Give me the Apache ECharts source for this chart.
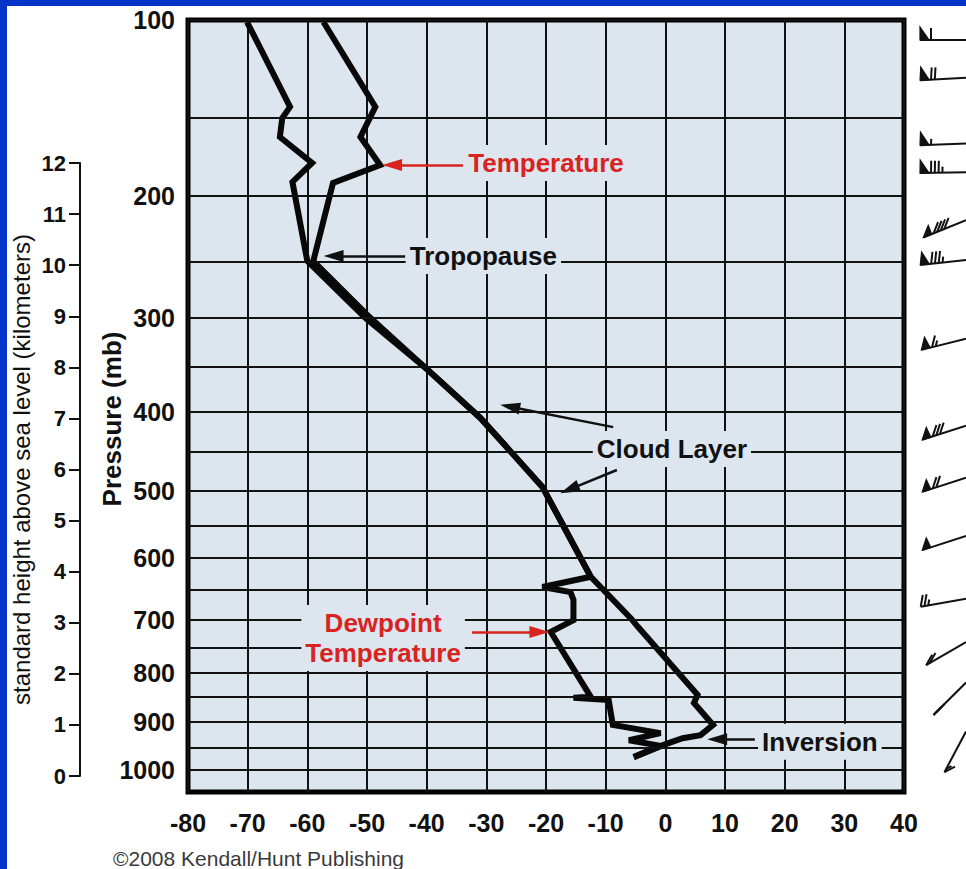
<!DOCTYPE html>
<html><head><meta charset="utf-8">
<script src="https://cdn.jsdelivr.net/npm/echarts@6/dist/echarts.min.js"></script>
<style>
html,body{margin:0;padding:0;background:#fff;}
#wrap{position:relative;width:966px;height:869px;overflow:hidden;}
#chart{position:absolute;left:0;top:0;width:966px;height:869px;}
.frameL{position:absolute;left:0;top:0;width:7px;height:869px;background:#0534c8;}
.frameT{position:absolute;left:0;top:0;width:966px;height:6px;background:#0534c8;}
</style></head><body>
<div id="wrap"><div id="chart"></div><div class="frameL"></div><div class="frameT"></div></div>
<script>
// ---- data ----
// temperature sounding: (°C, standard height km)
const tempC  = [-57.3,-48.6,-51.1,-47.8,-55.7,-59.0,-50.0,-40.2,-31.0,-20.6,-12.5,-5.8,-4.6,5.4,4.8,8.0,5.9,2.9,-0.3,-5.3];
const tempKm = [14.76,13.10,12.51,11.96,11.61,10.08,9.03,7.99,7.01,5.66,3.90,3.09,2.92,1.59,1.43,1.00,0.80,0.74,0.61,0.37];
// dewpoint sounding
const dewC  = [-70.1,-62.9,-64.2,-64.6,-59.2,-62.5,-60.0,-50.3,-40.2,-31.0,-20.6,-12.5,-20.6,-15.9,-15.4,-15.4,-19.2,-12.5,-15.4,-9.5,-8.8,-0.8,-6.1,-0.8,-5.3];
const dewKm = [14.76,13.10,12.88,12.51,12.00,11.63,10.08,8.97,7.99,7.01,5.66,3.90,3.70,3.60,3.45,3.05,2.82,1.55,1.53,1.49,1.00,0.84,0.70,0.59,0.37];
// pressure grid levels (mb) and their standard heights (km) on the chart
const pressureLevels = [100,150,200,250,300,350,400,450,500,550,600,650,700,750,800,850,900,950,1000];
const pressureKm     = [14.80,12.88,11.35,10.06,8.97,8.01,7.13,6.34,5.58,4.89,4.27,3.64,3.05,2.51,2.02,1.55,1.06,0.55,0.12];
// wind barbs: station height (km), direction (deg), speed (kt)
const windKm  = [14.41,13.67,12.38,11.82,10.88,10.10,8.56,6.86,5.84,4.70,3.47,2.62,1.83,0.87];
const windDir = [270,267,268,269,248,264,256,252,252,252,260,240,225,208];
const windKt  = [60,70,55,85,90,85,65,80,70,50,25,20,20,15];
// axis ranges
const tempMin = -80, tempMax = 40, tempStep = 10;
const kmMin = 0, kmMax = 12;

const FONT = 'Arial, "Liberation Sans", Helvetica, sans-serif';
const PLOT_BG = '#dde6ee';
const RED = '#d8231f';
const INK = '#111';
const yLo = -0.313, yHi = 14.80;

const chart = echarts.init(document.getElementById('chart'), null, {renderer:'svg', width:966, height:869});

const pressureLines = pressureLevels.map((p,i)=>({
  yAxis: pressureKm[i],
  label: {show: p % 100 === 0, formatter: String(p)}
}));

function arrow(x1,y1,x2,y2,color){
  return [
    {coord:[x1,y1], symbol:'none', lineStyle:{color:color,width:2.5,type:'solid'}},
    {coord:[x2,y2], symbol:'triangle', symbolSize:[12,20]}
  ];
}
function note(x,y,text,color){
  return {coord:[x,y], symbol:'rect', symbolSize:1, itemStyle:{color:'rgba(0,0,0,0)'},
    label:{show:true, position:'inside', formatter:text, color:color, fontSize:26, fontWeight:'bold',
      fontFamily:FONT, lineHeight:30, backgroundColor:PLOT_BG, padding:[3,4], align:'center', verticalAlign:'middle'}};
}

function barb(params, api){
  const st = api.coord([1, api.value(0)]);
  const dir = api.value(1), spd = api.value(2);
  const a = (270 - dir) * Math.PI / 180;
  const ux = -Math.cos(a), uy = Math.sin(a);
  const L = 46;
  const tip = [st[0] + L*ux, st[1] + L*uy];
  const nx = Math.sin(a), ny = -Math.cos(a);
  const P = s => [tip[0] - s*ux, tip[1] - s*uy];
  const kids = [{type:'line', shape:{x1:st[0],y1:st[1],x2:tip[0],y2:tip[1]}, style:{stroke:INK,lineWidth:2}}];
  let s = 0, rem = Math.round(spd/5)*5;
  const fw = 9, fh = 13, bl = 12, gap = 3.8;
  while (rem >= 50){
    const p0 = P(s), p1 = P(s+fw);
    kids.push({type:'polygon', shape:{points:[p0,[p0[0]+fh*nx,p0[1]+fh*ny],p1]}, style:{fill:INK, stroke:INK, lineWidth:1.2}});
    s += fw + 2; rem -= 50;
  }
  while (rem >= 10){
    const p0 = P(s);
    kids.push({type:'line', shape:{x1:p0[0],y1:p0[1],x2:p0[0]+bl*nx,y2:p0[1]+bl*ny}, style:{stroke:INK,lineWidth:2}});
    s += gap; rem -= 10;
  }
  if (rem >= 5){
    const p0 = P(s);
    kids.push({type:'line', shape:{x1:p0[0],y1:p0[1],x2:p0[0]+bl*0.5*nx,y2:p0[1]+bl*0.5*ny}, style:{stroke:INK,lineWidth:2}});
  }
  return {type:'group', children:kids};
}

const option = {
  animation:false,
  backgroundColor:'#fff',
  textStyle:{fontFamily:FONT},
  title:{text:'\u00A92008 Kendall/Hunt Publishing', left:108, top:843,
    textStyle:{fontSize:21, fontWeight:'normal', color:'#3a3a3a', fontFamily:FONT}},
  grid:[
    {left:188, top:20, width:716, height:772, show:true, backgroundColor:PLOT_BG, borderColor:'#000', borderWidth:5},
    {left:80, top:163, width:1, height:613, show:false},
    {left:905, top:20, width:61, height:772, show:false}
  ],
  xAxis:[
    {type:'value', gridIndex:0, min:tempMin, max:tempMax, interval:tempStep,
      axisLine:{show:false}, axisTick:{show:false},
      axisLabel:{margin:18, fontSize:25, fontWeight:'bold', color:INK, fontFamily:FONT},
      splitLine:{show:true, lineStyle:{color:INK, width:2}}},
    {type:'value', gridIndex:1, show:false, min:0, max:1},
    {type:'value', gridIndex:2, show:false, min:0, max:1}
  ],
  yAxis:[
    {type:'value', gridIndex:0, min:yLo, max:yHi,
      axisLine:{show:false}, axisTick:{show:false}, axisLabel:{show:false}, splitLine:{show:false},
      name:'Pressure (mb)', nameLocation:'middle', nameGap:63, nameRotate:90,
      nameTextStyle:{fontSize:26, fontWeight:'bold', color:INK, fontFamily:FONT, padding:[0,26,0,0]}},
    {type:'value', gridIndex:1, min:kmMin, max:kmMax, interval:1,
      axisLine:{show:true, lineStyle:{color:INK, width:2}},
      axisTick:{show:true, length:11, lineStyle:{color:INK, width:2}},
      axisLabel:{margin:14, fontSize:22, fontWeight:'bold', color:INK, fontFamily:FONT},
      splitLine:{show:false},
      name:'standard height above sea level (kilometers)', nameLocation:'middle', nameGap:47, nameRotate:90,
      nameTextStyle:{fontSize:24, fontWeight:'normal', color:INK, fontFamily:FONT}},
    {type:'value', gridIndex:2, show:false, min:yLo, max:yHi}
  ],
  series:[
    {type:'line', name:'grid', xAxisIndex:0, yAxisIndex:0, data:[], z:1, silent:true,
      markLine:{silent:true, symbol:['none','none'], animation:false,
        lineStyle:{color:INK, width:2, type:'solid'},
        label:{position:'start', distance:13, fontSize:25, fontWeight:'bold', color:INK, fontFamily:FONT},
        emphasis:{disabled:true},
        data:pressureLines}},
    {type:'line', name:'Temperature', xAxisIndex:0, yAxisIndex:0, z:3, symbol:'none', silent:true,
      data:tempC.map((t,i)=>[t,tempKm[i]]),
      lineStyle:{color:'#080808', width:6, join:'miter', miterLimit:4}},
    {type:'line', name:'Dewpoint', xAxisIndex:0, yAxisIndex:0, z:3, symbol:'none', silent:true,
      data:dewC.map((t,i)=>[t,dewKm[i]]),
      lineStyle:{color:'#080808', width:6, join:'miter', miterLimit:4}},
    {type:'line', name:'notes', xAxisIndex:0, yAxisIndex:0, data:[], z:5, silent:true,
      markLine:{silent:true, animation:false, label:{show:false}, emphasis:{disabled:true},
        data:[
          arrow(-33.9,11.96,-45.8,11.96,RED),
          arrow(-43.6,10.18,-55.6,10.18,INK),
          arrow(-8.74,6.83,-26.03,7.23,INK),
          arrow(-8.12,5.99,-16.06,5.61,INK),
          arrow(-32.4,2.82,-21.1,2.82,RED),
          arrow(15.0,0.72,8.68,0.72,INK)
        ]},
      markPoint:{silent:true, animation:false,
        data:[
          note(-20.0,12.0,'Temperature',RED),
          note(-30.5,10.18,'Tropopause',INK),
          note(1.1,6.40,'Cloud Layer',INK),
          note(-47.3,2.70,'Dewpoint\nTemperature',RED),
          note(25.9,0.67,'Inversion',INK)
        ]}},
    {type:'custom', name:'wind', xAxisIndex:2, yAxisIndex:2, z:4, silent:true, clip:false,
      data:windKm.map((h,i)=>[h, windDir[i], windKt[i]]),
      encode:{y:0},
      renderItem:barb}
  ]
};
chart.setOption(option);
</script>
</body></html>
